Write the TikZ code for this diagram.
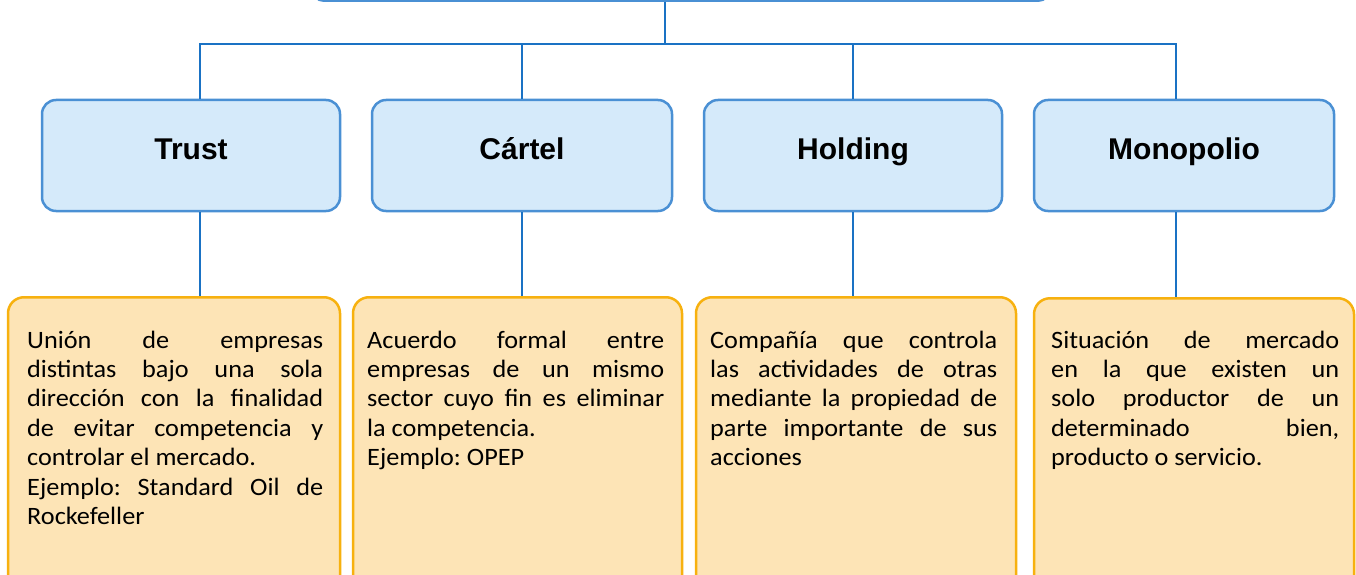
\documentclass[tikz,border=0pt]{standalone}
\usepackage{fontspec}
\setmainfont{Carlito}
\newfontfamily\titlefont{Liberation Sans}
\newfontfamily\descfont{Carlito}[FakeStretch=1.05]
\usepackage{xcolor}
\usepackage{tikz}
\usetikzlibrary{positioning}
\definecolor{linkblue}{HTML}{1A72C4}
\definecolor{boxblue}{HTML}{4A90D4}
\definecolor{fillblue}{HTML}{D5EAFA}
\definecolor{boxorange}{HTML}{F7B10F}
\definecolor{fillorange}{HTML}{FDE4B6}
\hbadness=10000
\frenchspacing

\begin{document}
\begin{tikzpicture}[x=1pt, y=-1pt,
        link/.style={draw=linkblue, line width=2.6pt},
        kind/.style={draw=boxblue, fill=fillblue, line width=2.5pt, rounded corners=14pt,
            minimum height=111pt, text height=22pt, text depth=15pt,
            font=\titlefont\bfseries\fontsize{30}{36}\selectfont},
        descbox/.style={draw=boxorange, fill=fillorange, line width=2.5pt, rounded corners=16pt,
            anchor=north, minimum height=300pt},
        desctext/.style={anchor=base west, inner sep=0pt, align=justify,
            font=\descfont\fontsize{25}{29.4}\selectfont}]
        \useasboundingbox (0, 0) rectangle (1356, 575);

        \node[draw=boxblue, fill=fillblue, line width=2.5pt, rounded corners=12pt, anchor=south,
            minimum width=738pt, minimum height=60pt] (root) at (681, 2) {};

        \node[kind, minimum width=298pt] (trust) at (191, 155.5) {Trust};
        \node[kind, minimum width=300pt] (cartel) at (522, 155.5) {Cártel};
        \node[kind, minimum width=298pt] (holding) at (853, 155.5) {Holding};
        \node[kind, minimum width=300pt] (monopolio) at (1184, 155.5) {Monopolio};

        \node[descbox, minimum width=332pt] (trustdesc) at (174, 296) {};
        \node[descbox, minimum width=329pt] (carteldesc) at (517.5, 296) {};
        \node[descbox, minimum width=320pt] (holdingdesc) at (856, 296) {};
        \node[descbox, minimum width=320pt] (monopoliodesc) at (1194, 297) {};

        \node[desctext, text width=296pt] (trusttext) at (27, 348)
            {Unión de empresas\linebreak distintas bajo una sola\linebreak dirección con la finalidad\linebreak
             de evitar competencia y\linebreak controlar el mercado.\par
             Ejemplo: Standard Oil de\linebreak Rockefeller};
        \node[desctext, text width=297pt] (carteltext) at (367, 348)
            {Acuerdo formal entre\linebreak empresas de un mismo\linebreak sector cuyo fin es eliminar\linebreak
             la competencia.\par Ejemplo: OPEP};
        \node[desctext, text width=287pt] (holdingtext) at (710, 348)
            {Compañía que controla\linebreak las actividades de otras\linebreak mediante la propiedad de\linebreak
             parte importante de sus\linebreak acciones};
        \node[desctext, text width=288pt] (monopoliotext) at (1051, 348)
            {Situación de mercado\linebreak en la que existen un\linebreak solo productor de un\linebreak
             determinado bien,\linebreak producto o servicio.};

        \coordinate (bus) at (665, 44);
        \draw[link] (root.south -| bus) -- (bus);
        \draw[link] (bus) -| ([xshift=9pt]trust.north);
        \draw[link] (bus) -| (cartel.north);
        \draw[link] (bus) -| (holding.north);
        \draw[link] (bus) -| ([xshift=-8pt]monopolio.north);

        \draw[link] ([xshift=9pt]trust.south) -- ([xshift=9pt]trust.south |- trustdesc.north);
        \draw[link] (cartel.south) -- (cartel.south |- carteldesc.north);
        \draw[link] (holding.south) -- (holding.south |- holdingdesc.north);
        \draw[link] ([xshift=-8pt]monopolio.south) -- ([xshift=-8pt]monopolio.south |- monopoliodesc.north);

    \end{tikzpicture}
\end{document}
